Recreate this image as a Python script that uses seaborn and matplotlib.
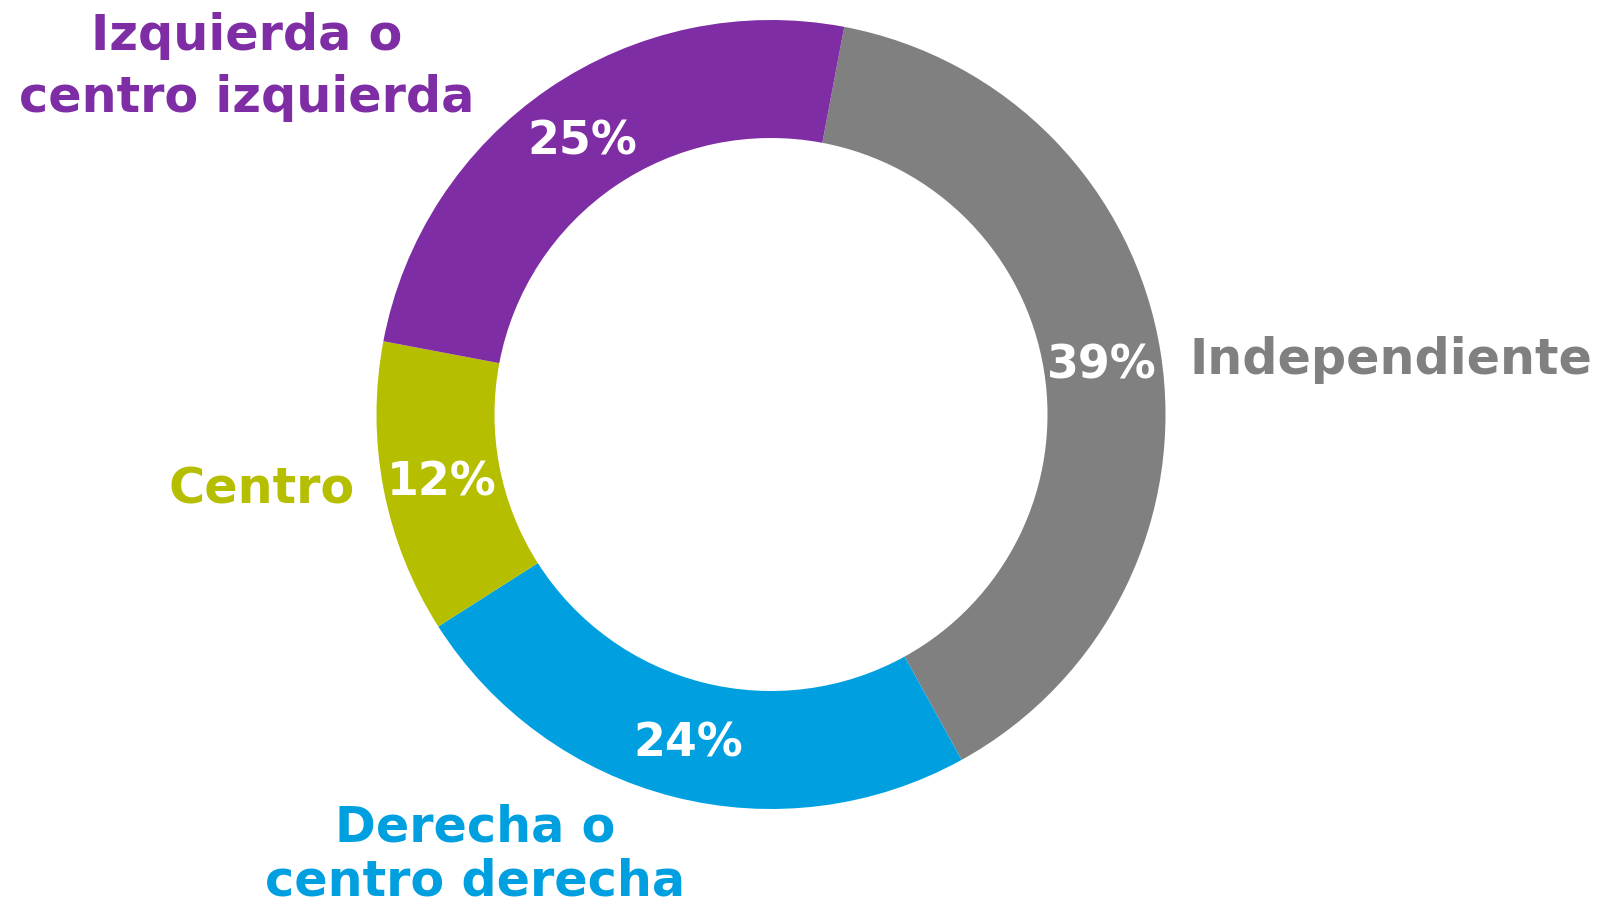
import seaborn as sns
import matplotlib.pyplot as plt

sns.set_style("white")
plt.rcParams['font.family'] = ['DejaVu Sans']

# data
categories = ['Independiente', 'Derecha o centro derecha', 'Centro', 'Izquierda o centro izquierda']
values = [39, 24, 12, 25]
colors = ['#808080', '#00A0E0', '#B5BF00', '#7F2DA5']

W, H = 1606, 909
fig = plt.figure(figsize=(W / 100, H / 100), dpi=100)
ax = fig.add_axes([0, 0, 1, 1])

# pie in pixel units (y measured from the bottom)
cx, cy, R = 771, H - 414.5, 394.5
wedges, texts, autotexts = ax.pie(
    values, colors=colors, startangle=79.3, counterclock=False,
    center=(cx, cy), radius=R,
    wedgeprops=dict(width=118, edgecolor='none'),
    autopct='%1.0f%%', pctdistance=0.85,
    textprops=dict(color='white', fontsize=33, fontweight='bold'),
)
for t in autotexts:
    t.set_va('center_baseline')

ax.set_xlim(0, W)
ax.set_ylim(0, H)
ax.set_aspect('equal')
ax.axis('off')

# outside labels: (lines, x, baselines in image px, ha)
label_layout = [
    (['Independiente'], 1190, [374], 'left'),
    (['Derecha o', 'centro derecha'], 475, [841, 896], 'center'),
    (['Centro'], 355, [503], 'right'),
    (['Izquierda o', 'centro izquierda'], 247, [50, 112], 'center'),
]
for (lines, x, ys, ha), col in zip(label_layout, colors):
    for line, y in zip(lines, ys):
        ax.text(x, H - y, line, ha=ha, va='baseline', color=col,
                fontsize=35.5, fontweight='bold')

fig.savefig('out.png', dpi=100, facecolor='white')
plt.close(fig)
